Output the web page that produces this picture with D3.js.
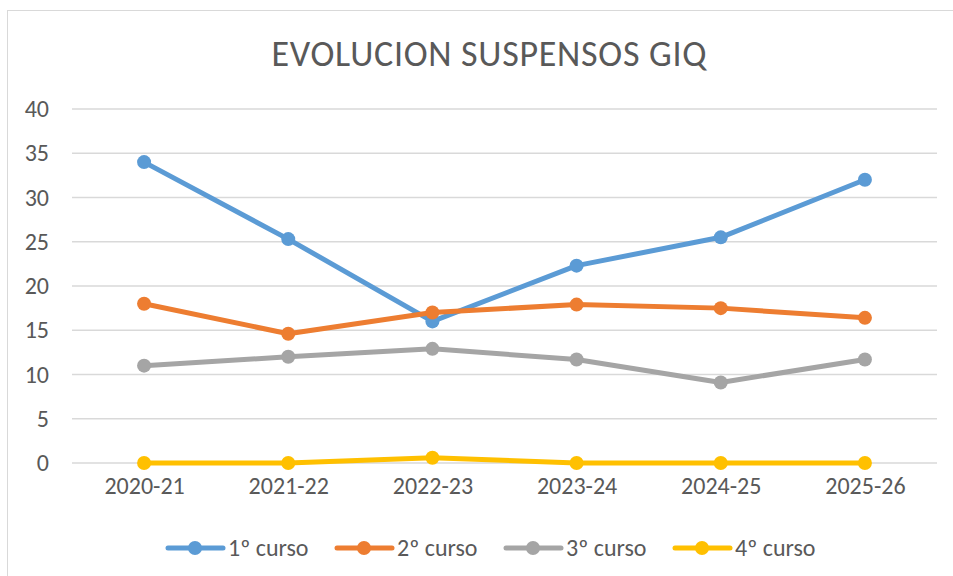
<!DOCTYPE html>
<html>
<head>
<meta charset="utf-8">
<script src="https://cdn.jsdelivr.net/npm/d3@7"></script>
<style>
  body { margin: 0; background: #fff; }
  text { font-family: Calibri, Carlito, "Open Sans", sans-serif; fill: #595959; }
</style>
</head>
<body>
<div id="svg"></div>
<script>
// Evolucion suspensos GIQ

let cursos = ["2020-21", "2021-22", "2022-23", "2023-24", "2024-25", "2025-26"];
let seriesNames = ["1º curso", "2º curso", "3º curso", "4º curso"];
let curso1 = [34, 25.3, 16, 22.3, 25.5, 32];
let curso2 = [18, 14.6, 17, 17.9, 17.5, 16.4];
let curso3 = [11, 12, 12.9, 11.7, 9.1, 11.7];
let curso4 = [0, 0, 0.6, 0, 0, 0];
let yTicks = [0, 5, 10, 15, 20, 25, 30, 35, 40];

let colors = ["#5b9bd5", "#ed7d31", "#a5a5a5", "#ffc000"];

function makeGraph() {
  let w = 953, h = 576;
  let margin = { left: 72, right: 16, top: 109, bottom: 113 };

  let svg = d3.select("#svg")
              .append("svg")
              .attr("width", w)
              .attr("height", h);

  // chart frame
  svg.append("rect")
     .attr("x", 7.5).attr("y", 10.5)
     .attr("width", w + 20).attr("height", h + 20)
     .attr("fill", "none")
     .attr("stroke", "#d9d9d9");

  let x = d3.scalePoint()
            .domain(cursos)
            .range([margin.left, w - margin.right])
            .padding(0.5);

  let y = d3.scaleLinear()
            .domain([0, 40])
            .range([h - margin.bottom, margin.top]);

  // gridlines
  svg.append("g")
     .selectAll("line")
     .data(yTicks)
     .enter()
     .append("line")
     .attr("x1", margin.left)
     .attr("x2", w - margin.right)
     .attr("y1", d => y(d))
     .attr("y2", d => y(d))
     .attr("stroke", "#d9d9d9")
     .attr("stroke-width", 1.3);

  let yAxis = svg.append("g")
     .attr("transform", `translate(49,0)`)
     .call(d3.axisLeft(y).tickValues(yTicks).tickSize(0).tickPadding(0));
  yAxis.select(".domain").remove();
  yAxis.selectAll("text").style("font-size", "24px").attr("fill", "#595959");

  let xAxis = svg.append("g")
     .attr("transform", `translate(0,${y(0) + 23})`)
     .call(d3.axisBottom(x).tickSize(0).tickPadding(0));
  xAxis.select(".domain").remove();
  xAxis.selectAll("text").style("font-size", "24px").attr("fill", "#595959")
     .attr("dy", "0.35em");

  let data = [curso1, curso2, curso3, curso4];
  let line = d3.line()
               .x((d, i) => x(cursos[i]))
               .y(d => y(d));

  let groups = svg.append("g")
     .selectAll("g")
     .data(data)
     .enter()
     .append("g");

  groups.append("path")
     .attr("d", d => line(d))
     .attr("fill", "none")
     .attr("stroke", (d, i) => colors[i])
     .attr("stroke-width", 5)
     .attr("stroke-linejoin", "round");

  groups.each(function(d, si) {
    d3.select(this).selectAll("circle")
      .data(d)
      .enter()
      .append("circle")
      .attr("cx", (v, i) => x(cursos[i]))
      .attr("cy", v => y(v))
      .attr("r", 7)
      .attr("fill", colors[si]);
  });

  // title
  svg.append("text")
     .attr("x", 489)
     .attr("y", 66)
     .attr("text-anchor", "middle")
     .style("font-size", "36px")
     .attr("textLength", 435)
     .text("EVOLUCION SUSPENSOS GIQ");

  // legend
  let legend = svg.append("g")
     .selectAll("g")
     .data(seriesNames)
     .enter()
     .append("g")
     .attr("transform", (d, i) => `translate(${168 + i * 169},548)`);

  legend.append("line")
     .attr("x1", 0).attr("x2", 55)
     .attr("stroke", (d, i) => colors[i])
     .attr("stroke-width", 5)
     .attr("stroke-linecap", "round");
  legend.append("circle")
     .attr("cx", 27).attr("r", 7)
     .attr("fill", (d, i) => colors[i]);
  legend.append("text")
     .attr("x", 60)
     .attr("dy", "0.35em")
     .style("font-size", "24px")
     .text(d => d);
}

window.onload = function() {
  makeGraph();
};
</script>
</body>
</html>
